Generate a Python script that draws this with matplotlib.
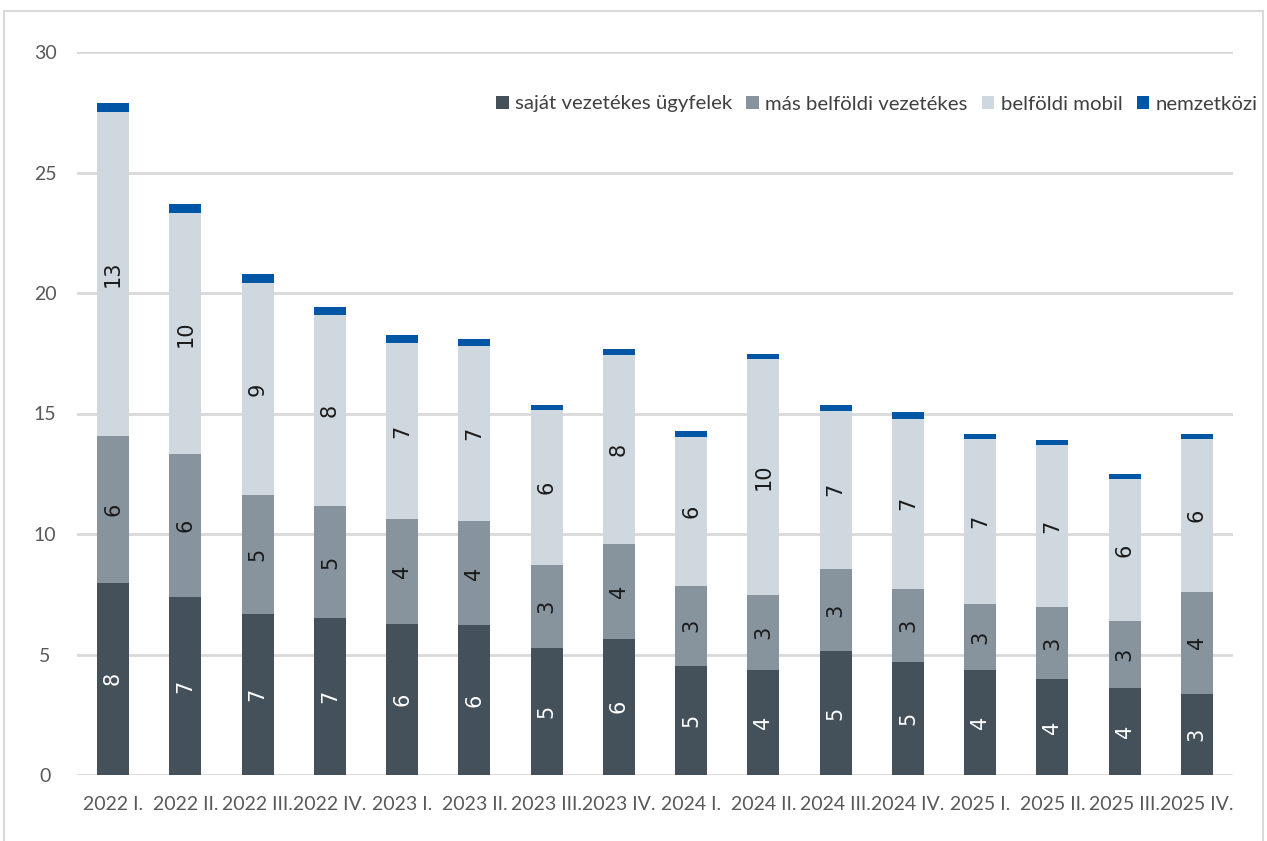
import numpy as np
import matplotlib
matplotlib.use('Agg')
import matplotlib.pyplot as plt
from matplotlib.patches import Patch, Rectangle

# quarterly values by segment
quarters = ['2022 I.', '2022 II.', '2022 III.', '2022 IV.',
            '2023 I.', '2023 II.', '2023 III.', '2023 IV.',
            '2024 I.', '2024 II.', '2024 III.', '2024 IV.',
            '2025 I.', '2025 II.', '2025 III.', '2025 IV.']
sajat = [7.98, 7.38, 6.66, 6.52, 6.27, 6.21, 5.28, 5.66, 4.54, 4.36, 5.15, 4.68, 4.34, 3.97, 3.61, 3.37]
mas_belfoldi = [6.10, 5.95, 4.95, 4.64, 4.37, 4.34, 3.45, 3.91, 3.30, 3.11, 3.40, 3.04, 2.76, 2.99, 2.79, 4.24]
belfoldi_mobil = [13.45, 9.98, 8.82, 7.93, 7.27, 7.26, 6.40, 7.84, 6.20, 9.79, 6.57, 7.07, 6.86, 6.72, 5.87, 6.35]
nemzetkozi = [0.36, 0.37, 0.37, 0.32, 0.33, 0.28, 0.22, 0.27, 0.23, 0.20, 0.23, 0.29, 0.18, 0.22, 0.24, 0.18]

series = [
    ('saját vezetékes ügyfelek', sajat, '#44515b', 'white'),
    ('más belföldi vezetékes', mas_belfoldi, '#87939d', '#1a1a1a'),
    ('belföldi mobil', belfoldi_mobil, '#cfd8de', '#1a1a1a'),
    ('nemzetközi', nemzetkozi, '#0055a5', None),
]

plt.rcParams['font.family'] = ['Lato', 'DejaVu Sans']

fig = plt.figure(figsize=(12.67, 8.41), dpi=100)
fig.patches.append(Rectangle((4 / 1267, -0.01), 1259 / 1267, 1 - 11 / 841 + 0.01,
                             transform=fig.transFigure, fill=False,
                             edgecolor='#d9d9d9', linewidth=1.5, zorder=0))
ax = fig.add_axes([77 / 1267, 66 / 841, 1156 / 1267, 723 / 841])

x = np.arange(len(quarters))
bottom = np.zeros(len(quarters))
handles = []
for name, vals, color, txtcol in series:
    vals = np.array(vals)
    ax.bar(x, vals, 0.443, bottom=bottom, color=color, zorder=3)
    if txtcol is not None:
        for xi, b, v in zip(x, bottom, vals):
            ax.text(xi, b + v / 2, str(int(np.floor(v + 0.5))), rotation=90,
                    ha='center', va='center', color=txtcol, fontsize=15,
                    family='DejaVu Sans', zorder=4)
    bottom += vals
    handles.append(Patch(facecolor=color, label=name))

ax.set_xlim(-0.5, len(quarters) - 0.5)
ax.set_ylim(0, 30)
ax.set_yticks(range(0, 31, 5))
ax.set_xticks(x)
ax.set_xticklabels(quarters)
ax.grid(axis='y', color='#d9d9d9', linewidth=2, zorder=0)
ax.set_axisbelow(True)
for s in ax.spines.values():
    s.set_visible(False)
ax.tick_params(axis='both', length=0, labelcolor='#595959', labelsize=14)
ax.tick_params(axis='x', pad=15)
ax.tick_params(axis='y', pad=23)
for lbl in ax.get_yticklabels():
    lbl.set_horizontalalignment('center')

fig.legend(handles=handles, loc='center left', bbox_to_anchor=(496 / 1267, 1 - 104 / 841),
           ncol=4, frameon=False, fontsize=14.7, handlelength=0.62, handleheight=0.62,
           handletextpad=0.3, columnspacing=0.7, borderpad=0, borderaxespad=0,
           labelcolor='#404040')

fig.savefig('out.png', dpi=100)
